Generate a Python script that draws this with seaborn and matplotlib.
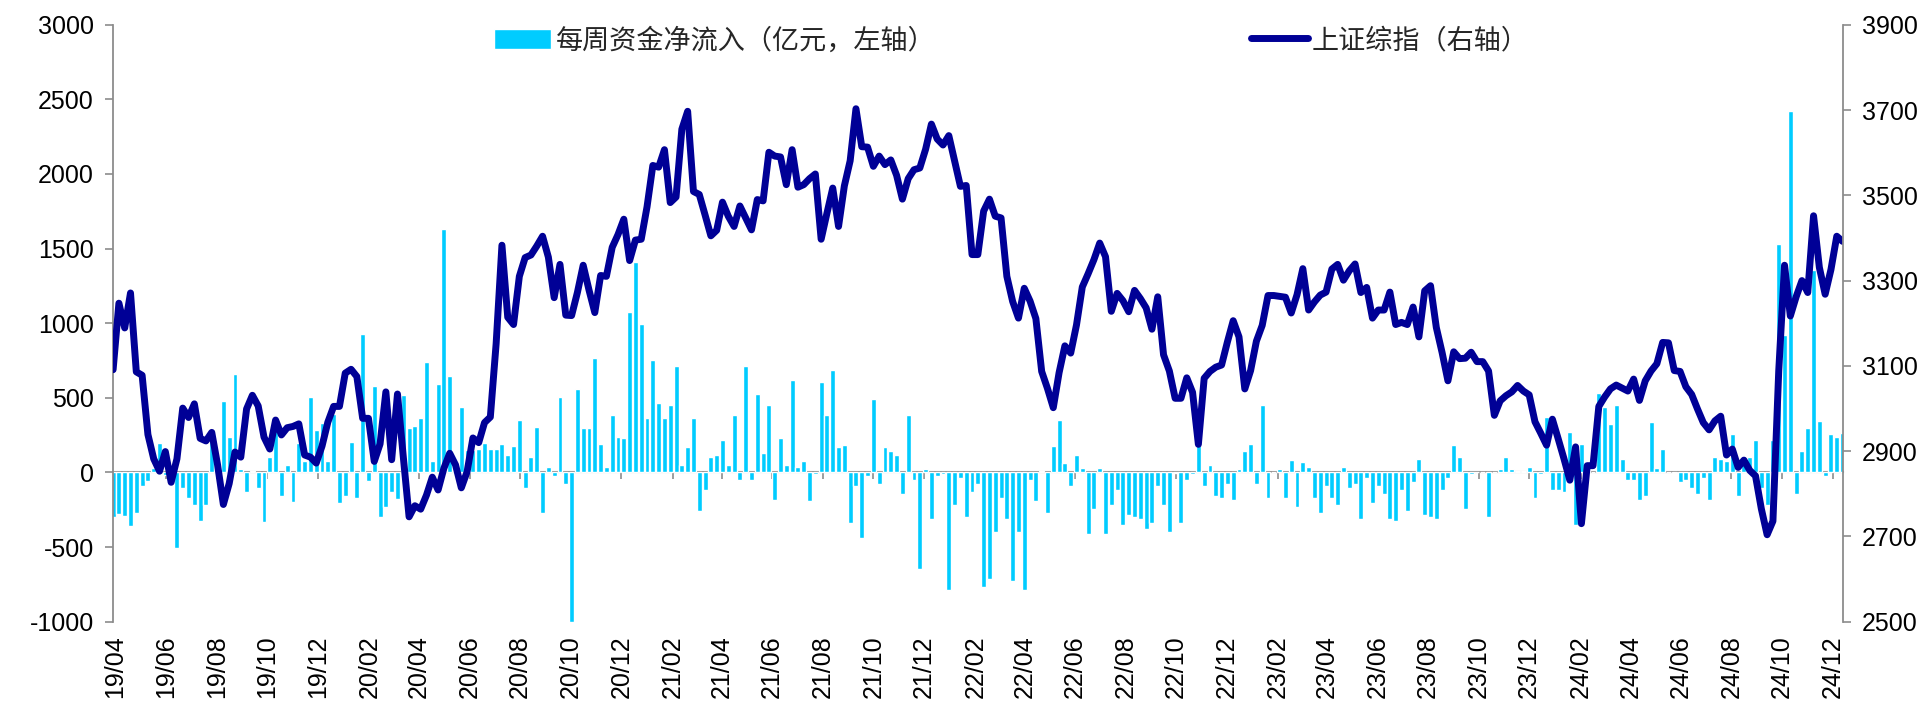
import matplotlib
matplotlib.use("Agg")
import matplotlib.pyplot as plt
import numpy as np
import pandas as pd
import seaborn as sns

# ---------------- data ----------------
first_week = "2019-03-29"
last_week = "2024-12-13"

# weekly net inflow (亿元), left axis
flow = [
    -300, -280, -290, -360, -270, -90, -60, 30, 200, -20,
    15, -505, -105, -170, -220, -325, -220, 220, 100, 480,
    235, 660, 25, -130, 10, -105, -335, 105, 375, -155,
    50, -195, 195, 80, 505, 285, 330, 80, 390, -207,
    -155, 207, -168, 930, -60, 580, -298, -233, -130, -180,
    518, 298, 310, 362, 738, 78, 596, 1632, 648, 60,
    440, 150, 150, 160, 200, 155, 155, 194, 120, 180,
    350, -104, 104, 305, -272, 40, -26, 505, -78, -1000,
    557, 298, 298, 764, 194, 40, 388, 238, 228, 1075,
    1412, 997, 362, 751, 466, 362, 453, 712, 52, 168,
    362, -259, -117, 104, 117, 220, 52, 383, -52, 712,
    -52, 525, 130, 453, -181, 233, 52, 622, 40, 78,
    -194, -13, 609, 388, 686, 168, 181, -337, -91, -440,
    -26, 492, -78, 168, 142, 117, -142, 383, -52, -648,
    26, -311, -26, -13, -790, -220, -39, -298, -130, -78,
    -764, -712, -401, -168, -311, -725, -401, -790, -52, -194,
    10, -272, 176, 350, 65, -91, 117, 31, -414, -246,
    31, -414, -220, -117, -350, -285, -298, -311, -376, -337,
    -91, -220, -401, -5, -337, -52, -10, 181, -91, 52,
    -155, -168, -78, -181, 26, 142, 194, -78, 453, -168,
    5, 26, -168, 83, -233, 73, 39, -168, -272, -91,
    -168, -220, 39, -104, -78, -311, -39, -207, -91, -142,
    -311, -324, -117, -259, -65, 90, -285, -298, -311, -117,
    -39, 181, 104, -246, -13, 5, 0, -298, 5, 26,
    104, 26, 10, 10, 39, -168, -10, 375, -117, -117,
    -130, 272, -350, 194, 60, 0, 531, 440, 324, 453,
    90, -52, -52, -181, -155, 337, 31, 155, 5, -5,
    -65, -52, -104, -142, -39, -181, 104, 90, 78, 259,
    -155, 78, 104, 220, -104, -220, 220, 1528, 920, 2422,
    -142, 142, 298, 1360, 345, -26, 259, 238, 264,
]

# Shanghai Composite weekly close, right axis
sse = [
    3091, 3247, 3189, 3271, 3086, 3078, 2939, 2882, 2853, 2899,
    2827, 2882, 3001, 2979, 3011, 2930, 2924, 2944, 2868, 2775,
    2824, 2898, 2886, 2999, 3031, 3006, 2933, 2905, 2973, 2938,
    2955, 2958, 2964, 2891, 2886, 2872, 2912, 2968, 3005, 3005,
    3083, 3092, 3075, 2977, 2977, 2876, 2917, 3039, 2880, 3034,
    2887, 2746, 2772, 2764, 2797, 2839, 2809, 2860, 2895, 2868,
    2814, 2852, 2931, 2920, 2967, 2980, 3152, 3383, 3214, 3197,
    3310, 3354, 3360, 3381, 3404, 3355, 3260, 3338, 3219, 3218,
    3272, 3336, 3278, 3225, 3312, 3310, 3378, 3408, 3444, 3347,
    3395, 3397, 3473, 3570, 3566, 3607, 3483, 3496, 3655, 3697,
    3509, 3502, 3454, 3405, 3418, 3484, 3451, 3427, 3475, 3447,
    3419, 3490, 3487, 3601, 3592, 3590, 3525, 3607, 3519, 3525,
    3539, 3550, 3397, 3458, 3517, 3427, 3522, 3581, 3703, 3614,
    3613, 3568, 3592, 3572, 3583, 3547, 3491, 3539, 3560, 3564,
    3608, 3667, 3632, 3618, 3640, 3580, 3521, 3523, 3361, 3361,
    3463, 3491, 3451, 3447, 3310, 3251, 3212, 3282, 3252, 3211,
    3087, 3047, 3002, 3084, 3147, 3130, 3196, 3285, 3316, 3349,
    3388, 3356, 3228, 3270, 3253, 3227, 3277, 3258, 3236, 3186,
    3262, 3126, 3088, 3024, 3024, 3072, 3038, 2916, 3071, 3087,
    3097, 3102, 3156, 3206, 3168, 3046, 3089, 3158, 3195, 3265,
    3265, 3263, 3261, 3224, 3267, 3328, 3231, 3250, 3266, 3273,
    3327, 3338, 3301, 3323, 3339, 3272, 3284, 3212, 3231, 3231,
    3273, 3197, 3202, 3197, 3238, 3168, 3276, 3288, 3190, 3131,
    3065, 3133, 3117, 3118, 3132, 3110, 3110, 3088, 2984, 3018,
    3030, 3039, 3054, 3041, 3032, 2969, 2942, 2914, 2975, 2929,
    2882, 2832, 2910, 2730, 2866, 2866, 3005, 3027, 3046, 3055,
    3048, 3041, 3069, 3019, 3065, 3088, 3105, 3155, 3154, 3089,
    3087, 3051, 3033, 2999, 2967, 2950, 2971, 2982, 2891, 2905,
    2862, 2879, 2855, 2842, 2765, 2704, 2736, 3088, 3336, 3217,
    3262, 3300, 3272, 3452, 3331, 3268, 3326, 3404, 3392,
]

label_flow = "每周资金净流入（亿元，左轴）"
label_sse = "上证综指（右轴）"
tick_months = pd.date_range("2019-04-01", "2024-12-01", freq="2MS")

# ---------------- figure ----------------
weeks = pd.date_range(first_week, last_week, freq="W-FRI")
df = pd.DataFrame({"week": weeks, "flow": flow, "sse": sse})
df["day"] = (df["week"] - weeks[0]).dt.days

sns.set_theme(style="white")
plt.rcParams["font.family"] = ["Liberation Sans", "Noto Sans CJK SC", "DejaVu Sans"]
plt.rcParams["axes.unicode_minus"] = False

BAR = "#00CCFF"
LINE = "#000096"
GREY = "#8c8c8c"

fig = plt.figure(figsize=(19.30, 7.07), dpi=100)
ax = fig.add_axes([0.0586, 0.1206, 0.8961, 0.8444])

sns.barplot(data=df, x="day", y="flow", native_scale=True, width=0.85,
            color=BAR, saturation=1, errorbar=None, ax=ax, label=label_flow)

ax2 = ax.twinx()
sns.lineplot(data=df, x="day", y="sse", color=LINE, linewidth=5.0, ax=ax2,
             label=label_sse)
for ln in ax2.lines:
    ln.set_solid_joinstyle("round")
    ln.set_solid_capstyle("round")

# limits
ax.set_xlim(df["day"].iloc[0], df["day"].iloc[-1])
ax.set_ylim(-1000, 3000)
ax2.set_ylim(2500, 3900)
ax.set_yticks(np.arange(-1000, 3001, 500))
ax2.set_yticks(np.arange(2500, 3901, 200))
ax.set_xlabel("")
ax.set_ylabel("")
ax2.set_xlabel("")
ax2.set_ylabel("")

# x ticks (labels at the bottom, tick marks on the zero line)
tick_pos = [(m - weeks[0]).days for m in tick_months]
tick_lab = [m.strftime("%y/%m") for m in tick_months]
ax.set_xticks(tick_pos)
ax.set_xticklabels(tick_lab, rotation=90, fontsize=18, color="black")
ax.tick_params(axis="x", length=0, pad=10, bottom=False)

zero_axis = ax.secondary_xaxis(0.25)
zero_axis.set_xticks(tick_pos)
zero_axis.tick_params(axis="x", bottom=True, labelbottom=False, length=5,
                      width=1.2, color=GREY, direction="out")
for s in zero_axis.spines.values():
    s.set_visible(False)
zero_axis.spines["bottom"].set_visible(True)
zero_axis.spines["bottom"].set_color(GREY)
zero_axis.spines["bottom"].set_linewidth(1.5)

# spines
for side in ["top", "right", "bottom"]:
    ax.spines[side].set_visible(False)
for side in ["top", "left", "bottom"]:
    ax2.spines[side].set_visible(False)
ax.spines["left"].set_color(GREY)
ax.spines["left"].set_linewidth(1.3)
ax2.spines["right"].set_color(GREY)
ax2.spines["right"].set_linewidth(1.3)

ax.tick_params(axis="y", left=True, direction="out", length=6, width=1.2,
               color=GREY, labelsize=18, labelcolor="black", pad=8)
ax2.tick_params(axis="y", right=True, direction="out", length=6, width=1.2,
                color=GREY, labelsize=18, labelcolor="black", pad=8)
ax2.tick_params(axis="x", bottom=False, labelbottom=False)

# legend
h1, l1 = ax.get_legend_handles_labels()
h2, l2 = ax2.get_legend_handles_labels()
for a in (ax, ax2):
    lg = a.get_legend()
    if lg is not None:
        lg.remove()
leg = ax2.legend(h1 + h2, l1 + l2, loc="center", bbox_to_anchor=(0.5195, 0.973),
                 ncol=2, frameon=False, handlelength=2.1,
                 handleheight=0.8, handletextpad=0.15, columnspacing=11.65,
                 prop={"family": ["Noto Sans CJK SC", "DejaVu Sans"], "size": 19.5})

fig.savefig("out.png", dpi=100, facecolor="white")
